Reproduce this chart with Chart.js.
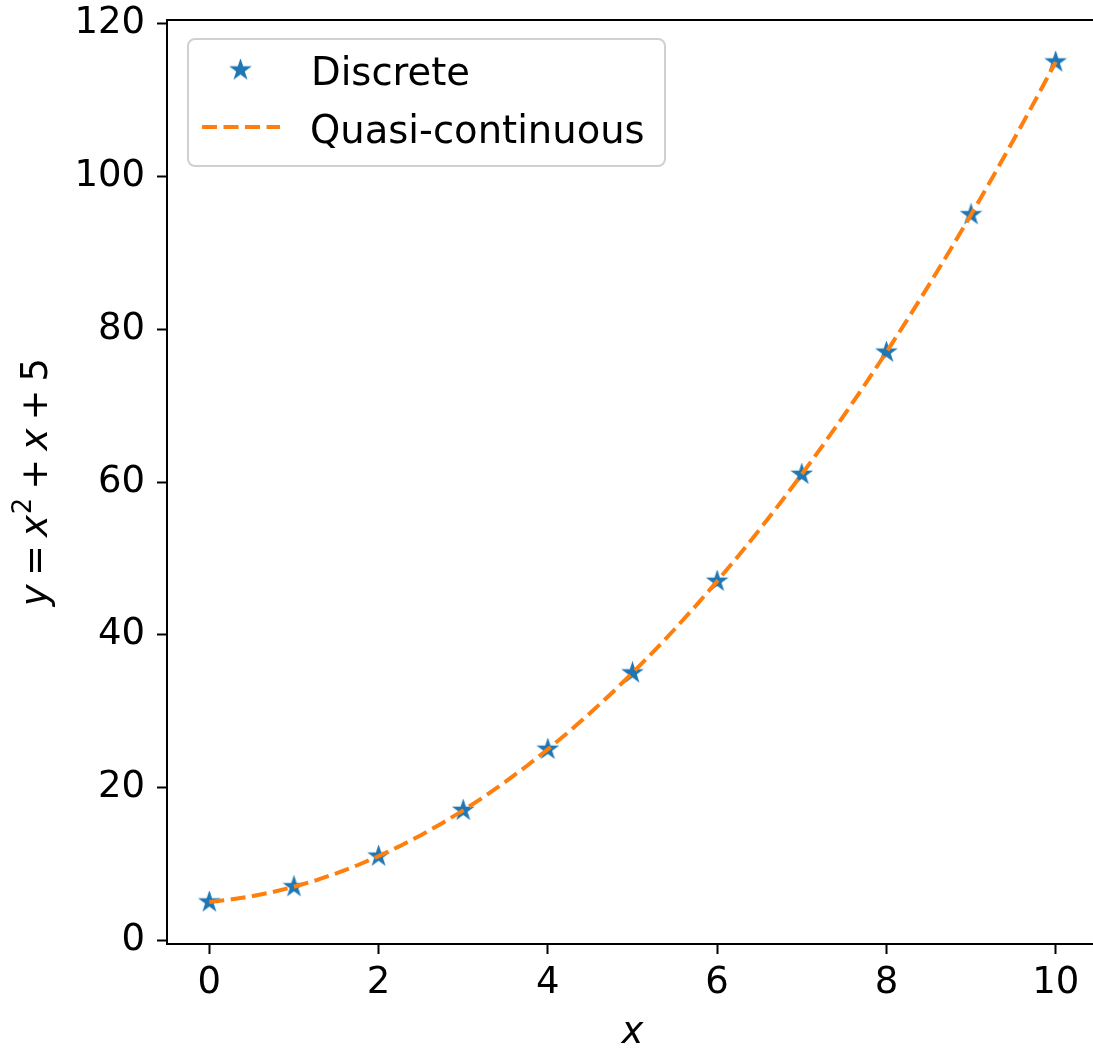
<!DOCTYPE html>
<html><head><meta charset="utf-8">
<script src="https://cdn.jsdelivr.net/npm/chart.js@4.4.1/dist/chart.umd.min.js"></script>
<style>
html,body{margin:0;padding:0;overflow:hidden;background:#fff;width:1093px;height:1048px}
#wrap{position:relative;width:1093px;height:1048px;overflow:hidden}
canvas{display:block}
</style></head>
<body><div id="wrap"><canvas id="c" width="1110" height="1048"></canvas></div>
<script>
// ---- data ----
const discreteX = [0, 1, 2, 3, 4, 5, 6, 7, 8, 9, 10];
const discreteY = [5, 7, 11, 17, 25, 35, 47, 61, 77, 95, 115];
const denseX = [0, 0.25, 0.5, 0.75, 1, 1.25, 1.5, 1.75, 2, 2.25, 2.5, 2.75, 3, 3.25, 3.5, 3.75, 4, 4.25, 4.5, 4.75, 5,
  5.25, 5.5, 5.75, 6, 6.25, 6.5, 6.75, 7, 7.25, 7.5, 7.75, 8, 8.25, 8.5, 8.75, 9, 9.25, 9.5, 9.75, 10];
const denseY = [5, 5.31, 5.75, 6.31, 7, 7.81, 8.75, 9.81, 11, 12.31, 13.75, 15.31, 17, 18.81, 20.75, 22.81, 25, 27.31, 29.75, 32.31, 35,
  37.81, 40.75, 43.81, 47, 50.31, 53.75, 57.31, 61, 64.81, 68.75, 72.81, 77, 81.31, 85.75, 90.31, 95, 99.81, 104.75, 109.81, 115];
const xTicks = [0, 2, 4, 6, 8, 10];
const yTicks = [0, 20, 40, 60, 80, 100, 120];
const seriesNames = ['Discrete', 'Quasi-continuous'];

// ---- style ----
const BLUE = '#1f77b4', ORANGE = '#ff7f0e';
const FONT = 'DejaVu Sans';
const TICK_SIZE = 37, LEG_SIZE = 38.5, LAB_SIZE = 37;

function makeStar(R, color) {
  const c = document.createElement('canvas');
  const s = Math.ceil(R * 2 + 4);
  c.width = s; c.height = s;
  const g = c.getContext('2d');
  const r = R * 0.382;
  g.beginPath();
  for (let i = 0; i < 10; i++) {
    const rad = i % 2 === 0 ? R : r;
    const a = -Math.PI / 2 + i * Math.PI / 5;
    const px = s / 2 + rad * Math.cos(a), py = s / 2 + rad * Math.sin(a);
    if (i === 0) g.moveTo(px, py); else g.lineTo(px, py);
  }
  g.closePath();
  g.fillStyle = color; g.fill();
  g.strokeStyle = color; g.lineWidth = 1.5; g.lineJoin = 'miter'; g.stroke();
  return c;
}
const star = makeStar(9.5, BLUE);

const frame = {
  id: 'frame',
  afterDatasetsDraw(chart) {
    const ctx = chart.ctx, a = chart.chartArea;
    ctx.save();
    ctx.strokeStyle = '#000'; ctx.lineWidth = 2;
    ctx.strokeRect(a.left, a.top, a.right - a.left, a.bottom - a.top);

    // legend
    const bx = 188, by = 39, bw = 477, bh = 127;
    ctx.beginPath();
    ctx.roundRect(bx, by, bw, bh, 7);
    ctx.fillStyle = 'rgba(255,255,255,0.8)'; ctx.fill();
    ctx.strokeStyle = '#d0d0d0'; ctx.lineWidth = 2; ctx.stroke();
    ctx.drawImage(star, 240.5 - star.width / 2, 70 - star.height / 2);
    ctx.beginPath();
    ctx.setLineDash([15, 6.5]);
    ctx.strokeStyle = ORANGE; ctx.lineWidth = 4; ctx.lineCap = 'butt';
    ctx.moveTo(202, 127); ctx.lineTo(280, 127); ctx.stroke();
    ctx.setLineDash([]);
    ctx.fillStyle = '#000';
    ctx.font = LEG_SIZE + 'px "' + FONT + '"';
    ctx.textAlign = 'left'; ctx.textBaseline = 'alphabetic';
    ctx.fillText(seriesNames[0], 311, 85);
    ctx.fillText(seriesNames[1], 310, 143);

    // x label
    ctx.font = 'italic ' + LAB_SIZE + 'px "' + FONT + '"';
    ctx.textAlign = 'center';
    ctx.fillText('x', (a.left + a.right) / 2, 1043);

    // y label (math style)
    const segs = [
      {t: 'y', it: true, sc: 1, up: 0, pre: 0, post: 0.22},
      {t: '=', it: false, sc: 1, up: 0, pre: 0, post: 0.22},
      {t: 'x', it: true, sc: 1, up: 0, pre: 0, post: 0.02},
      {t: '2', it: false, sc: 0.7, up: 0.42, pre: 0, post: 0.22},
      {t: '+', it: false, sc: 1, up: 0, pre: 0, post: 0.22},
      {t: 'x', it: true, sc: 1, up: 0, pre: 0, post: 0.22},
      {t: '+', it: false, sc: 1, up: 0, pre: 0, post: 0.22},
      {t: '5', it: false, sc: 1, up: 0, pre: 0, post: 0}
    ];
    let total = 0;
    segs.forEach(s => {
      ctx.font = (s.it ? 'italic ' : '') + (LAB_SIZE * s.sc) + 'px "' + FONT + '"';
      s.w = ctx.measureText(s.t).width;
      total += s.pre * LAB_SIZE + s.w + s.post * LAB_SIZE;
    });
    ctx.translate(47, (a.top + a.bottom) / 2);
    ctx.rotate(-Math.PI / 2);
    ctx.textAlign = 'left';
    let x = -total / 2;
    segs.forEach(s => {
      ctx.font = (s.it ? 'italic ' : '') + (LAB_SIZE * s.sc) + 'px "' + FONT + '"';
      x += s.pre * LAB_SIZE;
      ctx.fillText(s.t, x, -s.up * LAB_SIZE);
      x += s.w + s.post * LAB_SIZE;
    });
    ctx.restore();
  }
};

new Chart(document.getElementById('c'), {
  type: 'scatter',
  data: {
    datasets: [
      {
        label: seriesNames[1],
        data: denseX.map((v, i) => ({x: v, y: denseY[i]})),
        showLine: true,
        borderColor: ORANGE, borderWidth: 4, borderDash: [15, 6.5],
        pointRadius: 0, tension: 0, order: 0
      },
      {
        label: seriesNames[0],
        data: discreteX.map((v, i) => ({x: v, y: discreteY[i]})),
        showLine: false,
        pointStyle: star, pointRadius: 9,
        backgroundColor: BLUE, borderColor: BLUE, order: 1
      }
    ]
  },
  options: {
    responsive: false, animation: false, devicePixelRatio: 1, events: [],
    layout: {padding: {left: 0, top: 20, right: 12, bottom: 0}},
    plugins: {legend: {display: false}, tooltip: {enabled: false}},
    scales: {
      x: {
        type: 'linear', min: -0.5, max: 10.5,
        afterBuildTicks: s => { s.ticks = xTicks.map(v => ({value: v})); },
        afterFit: s => { s.height = 104; s.paddingLeft = 0; s.paddingRight = 0; },
        border: {display: false},
        grid: {display: true, drawOnChartArea: false, drawTicks: true, tickLength: 10, tickWidth: 2, tickColor: '#000'},
        ticks: {color: '#000', padding: 7, font: {family: FONT, size: TICK_SIZE}, maxRotation: 0, autoSkip: false}
      },
      y: {
        type: 'linear', min: -0.5, max: 120.5,
        afterBuildTicks: s => { s.ticks = yTicks.map(v => ({value: v})); },
        afterFit: s => { s.width = 167; s.paddingTop = 0; s.paddingBottom = 0; },
        border: {display: false},
        grid: {display: true, drawOnChartArea: false, drawTicks: true, tickLength: 10, tickWidth: 2, tickColor: '#000'},
        ticks: {color: '#000', padding: 12, font: {family: FONT, size: TICK_SIZE}, autoSkip: false}
      }
    }
  },
  plugins: [frame]
});
</script>
</body></html>
